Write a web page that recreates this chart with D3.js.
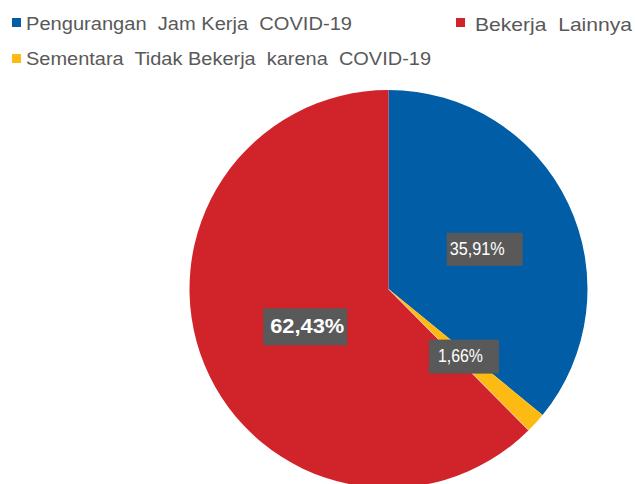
<!DOCTYPE html>
<html>
<head>
<meta charset="utf-8">
<script src="https://cdn.jsdelivr.net/npm/d3@7"></script>
<style>
  html, body { margin: 0; padding: 0; background: #fff; }
  svg { display: block; }
</style>
</head>
<body>
<svg id="chart" width="635" height="484"></svg>
<script>
// ---- data ----
const categories = ["Pengurangan  Jam Kerja  COVID-19", "Sementara  Tidak Bekerja  karena  COVID-19", "Bekerja  Lainnya"];
const values = [35.91, 1.66, 62.43];
const valueLabels = ["35,91%", "1,66%", "62,43%"];
const colors = ["#005DA6", "#FDBA12", "#D1232A"];

// ---- layout ----
const svg = d3.select("#chart");
const cx = 388.5, cy = 289, radius = 199;
const font = "'Liberation Sans Narrow','Arial Narrow','Liberation Sans',Arial,sans-serif";

const pie = d3.pie().sort(null).value(d => d).startAngle(0).endAngle(2 * Math.PI);
const arcs = pie(values);
const arc = d3.arc().innerRadius(0).outerRadius(radius);
const labelArc = d3.arc().innerRadius(102).outerRadius(102);

const g = svg.append("g").attr("transform", `translate(${cx},${cy})`);
g.selectAll("path.slice")
  .data(arcs)
  .enter().append("path")
  .attr("class", "slice")
  .attr("d", arc)
  .attr("fill", (d, i) => colors[i]);

// thin white separator along the start edge of the red slice
const redStart = arcs[2].startAngle;
g.append("line")
  .attr("x1", 0).attr("y1", 0)
  .attr("x2", radius * Math.sin(redStart)).attr("y2", -radius * Math.cos(redStart))
  .attr("stroke", "#fff").attr("stroke-width", 0.8).attr("stroke-opacity", 0.8);

// data labels (grey boxes)
const labelStyle = [
  { w: 76, h: 33, dx: 4, dy: 4, size: 19, weight: "normal", tl: 55, tx: -35 },
  { w: 70, h: 34, dx: 0, dy: -1, size: 19, weight: "normal", tl: 45, tx: -26 },
  { w: 84, h: 37, dx: 11, dy: -1, size: 21, weight: "bold", tl: 74, tx: -35 }
];
const lbl = g.selectAll("g.lbl")
  .data(arcs)
  .enter().append("g")
  .attr("class", "lbl")
  .attr("transform", (d, i) => {
    const c = labelArc.centroid(d);
    return `translate(${c[0] + labelStyle[i].dx},${c[1] + labelStyle[i].dy})`;
  });
lbl.append("rect")
  .attr("x", (d, i) => -labelStyle[i].w / 2)
  .attr("y", (d, i) => -labelStyle[i].h / 2)
  .attr("width", (d, i) => labelStyle[i].w)
  .attr("height", (d, i) => labelStyle[i].h)
  .attr("fill", "#595959");
lbl.append("text")
  .attr("x", (d, i) => labelStyle[i].tx)
  .attr("y", (d, i) => labelStyle[i].size * 0.36 - 1)
  .attr("font-family", font)
  .attr("font-size", (d, i) => labelStyle[i].size)
  .attr("font-weight", (d, i) => labelStyle[i].weight)
  .attr("fill", "#fff")
  .attr("textLength", (d, i) => labelStyle[i].tl)
  .attr("lengthAdjust", "spacingAndGlyphs")
  .text((d, i) => valueLabels[i]);

// ---- legend ----
const legendItems = [
  { idx: 0, x: 12, y: 18, tx: 26, base: 29.5, tl: 326, size: 17.5 },
  { idx: 2, x: 456, y: 18, tx: 475, base: 30.5, tl: 157, size: 18.5 },
  { idx: 1, x: 12, y: 54, tx: 26, base: 65, tl: 405, size: 17.5 }
];
const leg = svg.append("g").attr("class", "legend");
legendItems.forEach(it => {
  leg.append("rect")
    .attr("x", it.x).attr("y", it.y)
    .attr("width", 9).attr("height", 9)
    .attr("fill", colors[it.idx]);
  leg.append("text")
    .attr("x", it.tx).attr("y", it.base)
    .attr("font-family", font)
    .attr("font-size", it.size)
    .attr("fill", "#595959")
    .attr("textLength", it.tl)
    .attr("lengthAdjust", "spacingAndGlyphs")
    .style("white-space", "pre")
    .text(categories[it.idx]);
});
</script>
</body>
</html>
